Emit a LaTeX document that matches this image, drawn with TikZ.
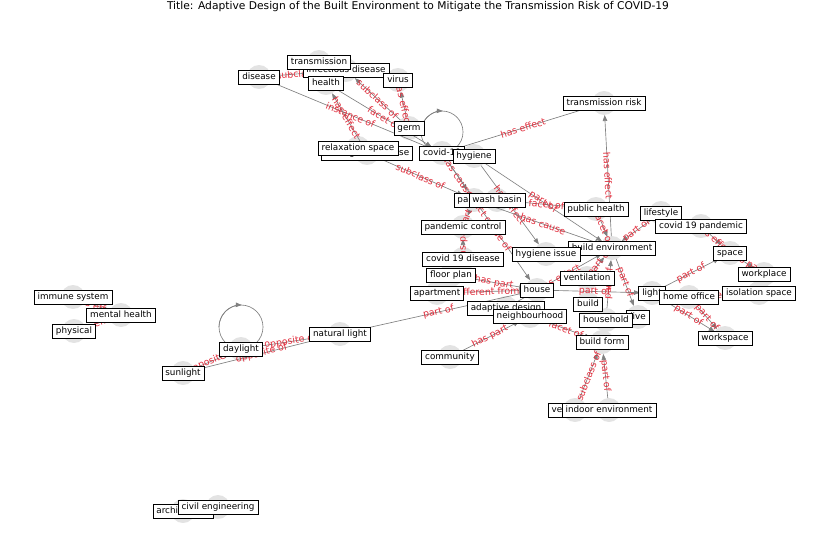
\documentclass[tikz,border=0pt]{standalone}
\usepackage{fontspec}
\setmainfont{DejaVu Sans}
\usetikzlibrary{arrows.meta}

\definecolor{elred}{RGB}{225,45,60}
\tikzset{
  vertex/.style={fill=gray!22},
  lbl/.style={draw=black,fill=white,line width=0.6pt,inner xsep=3.5pt,inner ysep=2.5pt,
    text height=7pt,text depth=2pt,font=\fontsize{8.8}{10}\selectfont},
  edge/.style={draw=gray,line width=0.65pt,-{Triangle[length=6pt,width=4.5pt]},
    shorten >=12pt,shorten <=12pt},
  elabel/.style={sloped,text=elred,inner sep=1pt,font=\fontsize{9.4}{10}\selectfont}
}

\def\concepts{inf/346/70/infectious disease, trm/319/62/transmission, hea/326/83/health,
  dis/259/77/disease, vir/398/80/virus, germ/409/128/germ, risk/604/103/transmission risk,
  con/367/153/contagious disease, rel/358/148/relaxation space, cov/442/153/covid-19,
  hyg/474/156/hygiene, par/474/200/particle, wash/497/200/wash basin, pub/596/209/public health,
  life/661/213/lifestyle, pand/701/226/covid 19 pandemic, ctrl/463/227/pandemic control,
  env/612/248/build environment, hygi/546/254/hygiene issue, cdis/463/259/covid 19 disease,
  space/730/253/space, floor/451/275/floor plan, vent/587/278/ventilation, work/764/274/workplace,
  adapt/506/308/adaptive design, apt/437/293/apartment, house/537/290/house, light/652/293/light,
  home/689/297/home office, iso/759/293/isolation space, build/588/304/build,
  nbh/530/316/neighbourhood, live/638/317/live, hh/606/320/household, wsp/725/338/workspace,
  imm/73/297/immune system, ment/121/315/mental health, phys/74/331/physical,
  nat/340/334/natural light, day/241/349/daylight, form/602/342/build form,
  comm/450/357/community, sun/183/373/sunlight, vern/575/410/vernacular,
  indoor/609/410/indoor environment, arch/183/511/architecture, civil/218/507/civil engineering}

\begin{document}
\begin{tikzpicture}[x=1pt,y=-1pt]
\useasboundingbox (0,0) rectangle (837,559);
\node (title) at (418,7) {\fontsize{10.7}{12}\selectfont Title: Adaptive Design of the Built Environment to Mitigate the Transmission Risk of COVID-19};

\foreach \n/\x/\y/\t in \concepts {
  \coordinate (\n) at (\x,\y);
  \fill[vertex] (\n) circle (12);
}

\draw[gray,line width=0.65pt] ([yshift=21pt]cov) circle[radius=21pt];
\draw[gray,line width=0.65pt,-{Triangle[length=6pt,width=4.5pt]}] ([shift={(-21pt,21pt)}]cov) arc[start angle=180,end angle=88,radius=21pt];
\draw[gray,line width=0.65pt] ([yshift=22pt]day) circle[radius=22pt];
\draw[gray,line width=0.65pt,-{Triangle[length=6pt,width=4.5pt]}] ([shift={(-22pt,22pt)}]day) arc[start angle=180,end angle=88,radius=22pt];

\draw[edge] (dis) -- node[elabel]{subclass of} (inf);
\draw[edge] (dis) -- node[elabel]{instance of} (cov);
\draw[edge] (con) -- node[elabel]{has effect} (hea);
\draw[edge] (hea) -- node[elabel]{facet of} (cov);
\draw[edge] (germ) -- node[elabel]{subclass of} (inf);
\draw[edge] (germ) -- node[elabel]{has effect} (vir);
\draw[edge] (cov) -- node[elabel]{has effect} (risk);
\draw[edge] (env) -- node[elabel]{has effect} (risk);
\draw[edge] (con) -- node[elabel]{subclass of} (par);
\draw[edge] (cov) -- node[elabel]{has cause} (par);
\draw[edge] (hyg) -- node[elabel]{has effect} (hygi);
\draw[edge] (cov) -- node[elabel]{direct cause of} (house);
\draw[edge] (wash) -- node[elabel]{facet of} (pub);
\draw[edge] (par) -- node[elabel]{has cause} (env);
\draw[edge] (hyg) -- node[elabel]{part of} (env);
\draw[edge] (par) -- node[elabel]{part of} (ctrl);
\draw[edge] (cdis) -- node[elabel]{has part} (ctrl);
\draw[edge] (pub) -- node[elabel]{facet of} (env);
\draw[edge] (life) -- node[elabel]{part of} (env);
\draw[edge] (pand) -- node[elabel]{has effect} (space);
\draw[edge] (space) -- node[elabel]{has part} (work);
\draw[edge] (light) -- node[elabel]{part of} (space);
\draw[edge] (home) -- node[elabel]{different from} (iso);
\draw[edge] (light) -- node[elabel]{part of} (wsp);
\draw[edge] (home) -- node[elabel]{part of} (wsp);
\draw[edge] (env) -- node[elabel]{part of} (live);
\draw[edge] (vent) -- node[elabel]{part of} (env);
\draw[edge] (hh) -- node[elabel]{part of} (env);
\draw[edge] (adapt) -- node[elabel]{has effect} (env);
\draw[edge] (house) -- node[elabel]{part of} (light);
\draw[edge] (floor) -- node[elabel]{has part} (house);
\draw[edge] (apt) -- node[elabel]{different from} (house);
\draw[edge] (nat) -- node[elabel]{part of} (house);
\draw[edge] (comm) -- node[elabel]{has part} (nbh);
\draw[edge] (nbh) -- node[elabel]{facet of} (form);
\draw[edge] (vern) -- node[elabel]{subclass of} (form);
\draw[edge] (indoor) -- node[elabel]{part of} (form);
\draw[edge] (sun) -- node[elabel]{opposite of} (day);
\draw[edge] (day) -- node[elabel]{opposite of} (nat);
\draw[edge] (sun) -- node[elabel]{opposite of} (nat);
\draw[edge] (imm) -- node[elabel]{has effect} (ment);
\draw[edge] (phys) -- node[elabel]{has effect} (ment);

\foreach \n/\x/\y/\t in \concepts
  \node[lbl] (\n-box) at (\n) {\t};
\end{tikzpicture}
\end{document}
